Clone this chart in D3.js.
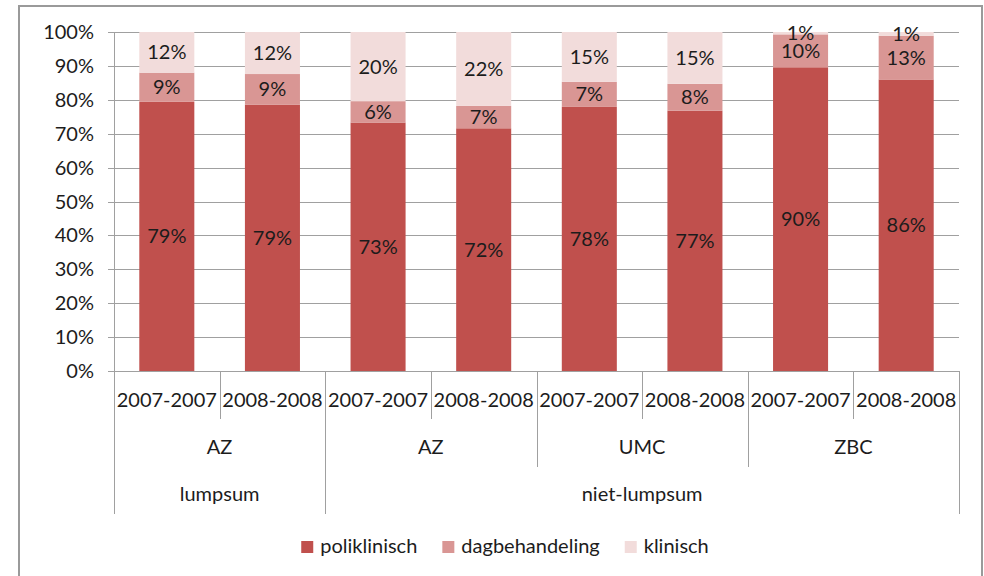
<!DOCTYPE html>
<html>
<head>
<meta charset="utf-8">
<script src="https://cdn.jsdelivr.net/npm/d3@7"></script>
<style>
  body { margin: 0; background: #fff; }
  svg { display: block; }
  text { font-family: Lato, "Open Sans", sans-serif; fill: #1c1c1c; }
</style>
</head>
<body>
<svg id="chart" width="984" height="576"></svg>
<script>
// ---- data ----
const years = ["2007-2007", "2008-2008", "2007-2007", "2008-2008", "2007-2007", "2008-2008", "2007-2007", "2008-2008"];
const hospitals = ["AZ", "AZ", "AZ", "AZ", "UMC", "UMC", "ZBC", "ZBC"];
const funding = ["lumpsum", "lumpsum", "niet-lumpsum", "niet-lumpsum", "niet-lumpsum", "niet-lumpsum", "niet-lumpsum", "niet-lumpsum"];
const seriesNames = ["poliklinisch", "dagbehandeling", "klinisch"];
const poliklinisch = [79.4, 78.6, 73.3, 71.6, 77.9, 76.8, 89.6, 86.0];
const dagbehandeling = [8.6, 9.0, 6.3, 6.6, 7.4, 7.9, 9.7, 12.9];
const klinisch = [12.0, 12.4, 20.4, 21.8, 14.7, 15.3, 0.7, 1.1];
const yTicks = [0, 10, 20, 30, 40, 50, 60, 70, 80, 90, 100];
const colors = ["#C0504D", "#D99694", "#F2DCDB"];

// ---- layout ----
const svg = d3.select("#chart");
const plot = { left: 114, right: 959, top: 32, bottom: 371 };
const rowBottoms = [419, 467, 514];
const fontSize = 20;

// outer frame
svg.append("rect").attr("x", 19).attr("y", 6).attr("width", 963).attr("height", 600)
  .attr("fill", "#fff").attr("stroke", "#9a9a9a").attr("stroke-width", 2);

const idx = d3.range(years.length);
const x = d3.scaleBand().domain(idx).range([plot.left, plot.right]).paddingInner(0.479).paddingOuter(0.2395);
const y = d3.scaleLinear().domain([0, 100]).range([plot.bottom, plot.top]);
const step = x.step();
const x0 = plot.left;

// gridlines
svg.append("g").selectAll("line").data(yTicks).join("line")
  .attr("x1", plot.left - 6).attr("x2", plot.right)
  .attr("y1", d => Math.round(y(d)) + 0.5).attr("y2", d => Math.round(y(d)) + 0.5)
  .attr("stroke", "#a0a0a0").attr("stroke-width", 1);

// y axis tick labels
svg.append("g").selectAll("text").data(yTicks).join("text")
  .attr("x", 94).attr("y", d => y(d)).attr("dy", "0.35em")
  .attr("text-anchor", "end").attr("font-size", fontSize)
  .text(d => d + "%");

// stacked bars
const rows = idx.map(i => ({ i, poliklinisch: poliklinisch[i], dagbehandeling: dagbehandeling[i], klinisch: klinisch[i] }));
const stack = d3.stack().keys(seriesNames)(rows);
const fmt = d3.format(".0f");

stack.forEach((layer, li) => {
  svg.append("g").selectAll("rect").data(layer).join("rect")
    .attr("x", d => x(d.data.i)).attr("width", x.bandwidth())
    .attr("y", d => y(d[1])).attr("height", d => y(d[0]) - y(d[1]))
    .attr("fill", colors[li]);
});
stack.forEach((layer, li) => {
  svg.append("g").selectAll("text").data(layer).join("text")
    .attr("x", d => x(d.data.i) + x.bandwidth() / 2)
    .attr("y", d => (y(d[0]) + y(d[1])) / 2).attr("dy", "0.35em")
    .attr("text-anchor", "middle").attr("font-size", fontSize)
    .text(d => fmt(d[1] - d[0]) + "%");
});

// y axis line
svg.append("line").attr("x1", x0 + 0.5).attr("x2", x0 + 0.5).attr("y1", plot.top).attr("y2", plot.bottom)
  .attr("stroke", "#a0a0a0");

// multi-level category axis
const axisG = svg.append("g");
function runs(keyFn) {
  const out = [];
  idx.forEach(i => {
    const k = keyFn(i);
    if (out.length && out[out.length - 1].key === k) out[out.length - 1].end = i + 1;
    else out.push({ key: k, label: k.split("|").pop(), start: i, end: i + 1 });
  });
  return out;
}
const lvl1 = idx.map(i => ({ label: years[i], start: i, end: i + 1 }));
const lvl2 = runs(i => funding[i] + "|" + hospitals[i]);
const lvl3 = runs(i => funding[i]);
const levels = [lvl1, lvl2, lvl3];
const baselines = [407, 454, 501];

const boundaryDepth = {};
levels.forEach((lv, li) => {
  lv.forEach(g => { boundaryDepth[g.start] = li; boundaryDepth[g.end] = li; });
});
Object.keys(boundaryDepth).forEach(b => {
  const bx = Math.round(x0 + (+b) * step) + 0.5;
  axisG.append("line").attr("x1", bx).attr("x2", bx)
    .attr("y1", plot.bottom).attr("y2", rowBottoms[boundaryDepth[b]])
    .attr("stroke", "#a0a0a0");
});
levels.forEach((lv, li) => {
  axisG.append("g").selectAll("text").data(lv).join("text")
    .attr("x", d => x0 + (d.start + d.end) / 2 * step)
    .attr("y", baselines[li])
    .attr("text-anchor", "middle").attr("font-size", fontSize)
    .text(d => d.label);
});

// legend
const legend = svg.append("g");
const items = legend.selectAll("g").data(seriesNames).join("g");
items.append("rect").attr("width", 12).attr("height", 12).attr("y", 541)
  .attr("fill", (d, i) => colors[i]);
items.append("text").attr("x", 19).attr("y", 553).attr("font-size", fontSize).text(d => d);
const widths = [];
items.each(function () { widths.push(19 + this.querySelector("text").getComputedTextLength()); });
const gap = 25;
const total = d3.sum(widths) + gap * (widths.length - 1);
let cx = 505 - total / 2;
items.attr("transform", (d, i) => {
  const t = `translate(${cx},0)`;
  cx += widths[i] + gap;
  return t;
});
</script>
</body>
</html>
